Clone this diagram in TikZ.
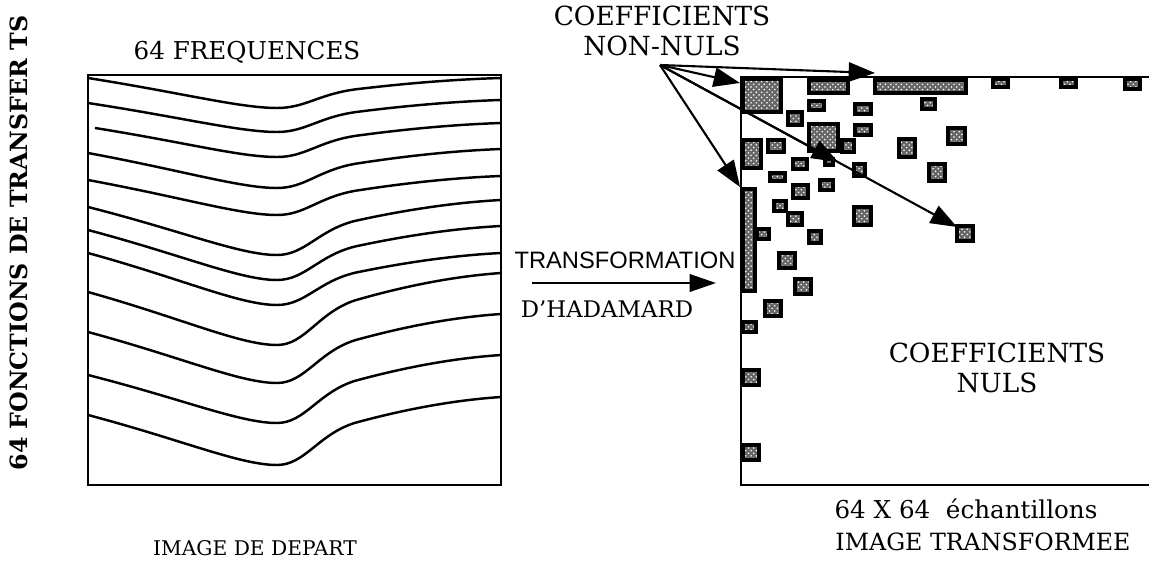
\documentclass[tikz,border=0pt]{standalone}
\usepackage{fontspec}
\setmainfont{DejaVu Serif}
\newfontfamily\helv{Liberation Sans}
\usetikzlibrary{arrows.meta,patterns}

\tikzset{
  cadre/.style={line width=1.6pt},
  courbe/.style={line width=1.4pt},
  coef/.style={fill=black!60, postaction={pattern=crosshatch dots, pattern color=white}, postaction={draw, line width=2.2pt}},
  fleche/.style={line width=1.2pt, -{Triangle[length=15pt,width=11pt]}},
  titre/.style={inner sep=0pt, align=center, font=\fontsize{14}{17}\selectfont},
}

\begin{document}
\begin{tikzpicture}[x=0.02cm,y=-0.02cm]
\useasboundingbox (0,0) rectangle (1149,564);

% image de depart
\draw[cadre] (88,75) rectangle (501,485);
\foreach \s/\l/\m/\r in {88/78/108/78, 88/103/132/100, 95/128/157/123, 88/153/188/149,
    88/180/215/176, 88/207/255/200, 88/230/280/226, 88/253/305/253,
    88/292/345/273, 88/332/383/314, 88/375/423/355, 88/415/465/397}
  \draw[courbe] (\s,\l) .. controls ({\s+0.5*(277-\s)},{\l+0.5*(\m-\l)}) and (240,\m) .. (277,\m)
     .. controls (305,\m) and (318,{\m-0.45*(\m-\r)}) .. (355,{\m-0.62*(\m-\r)})
     .. controls (400,{\m-0.8*(\m-\r)}) and (450,{\m-0.95*(\m-\r)}) .. (501,\r);

\node[titre] (freq) at (247,52) {64 FREQUENCES};
\node[titre, rotate=90, font=\fontsize{13.5}{16}\selectfont\bfseries] (fonctions) at (19,243) {64 FONCTIONS DE TRANSFER TS};
\node[titre, font=\fontsize{11.5}{14}\selectfont] (depart) at (255,548) {IMAGE DE DEPART};

% transformation
\node[titre, font=\helv\fontsize{13.5}{16}\selectfont] (transfo) at (625,260) {TRANSFORMATION};
\node[titre, font=\fontsize{13}{16}\selectfont] (hadamard) at (607,309) {D'HADAMARD};
\coordinate (hdeb) at (532,283);
\coordinate (hfin) at (716,283);
\draw[fleche, -{Triangle[length=15pt,width=10pt]}] (hdeb) -- (hfin);

% image transformee
\draw[cadre] (1149,77) -- (741,77) -- (741,485) -- (1149,485);
\foreach \a/\b/\c/\d in {741/77/783/114, 807/78/850/95, 873/78/968/95, 991/77/1010/89,
    1059/77/1078/89, 1123/77/1142/91, 807/99/826/112, 853/102/873/116, 920/97/937/111,
    786/110/804/127, 853/123/873/137, 807/122/840/153, 840/138/856/154, 946/126/967/146,
    741/138/763/170, 766/138/786/154, 897/137/917/159, 791/157/809/171, 823/157/835/167,
    852/162/867/178, 927/162/947/183, 768/171/787/183, 791/183/810/200, 818/178/835/192,
    741/187/757/293, 755/227/771/241, 772/199/788/213, 786/211/804/227, 852/205/873/227,
    807/229/823/245, 955/224/975/243, 777/251/797/270, 793/277/813/296, 763/299/783/318,
    741/320/758/334, 741/368/761/387, 741/443/761/462}
  \draw[coef] ({\a+2},{\b+2}) rectangle ({\c-2},{\d-2});

\node[titre, font=\fontsize{15}{17}\selectfont] (nonnuls) at (662,31) {COEFFICIENTS\\NON-NULS};
\node[titre, font=\fontsize{15}{17}\selectfont] (nuls) at (997,368) {COEFFICIENTS\\NULS};
\node[titre] (echant) at (966,509) {64 X 64\ \ échantillons};
\node[titre, font=\fontsize{13.5}{16}\selectfont] (transformee) at (983,542) {IMAGE TRANSFORMEE};

% fleches vers les coefficients
\coordinate (fan) at (660,65);
\coordinate (c1) at (875,73);
\coordinate (c2) at (740,83);
\coordinate (c3) at (740,187);
\coordinate (c4) at (838,162);
\coordinate (c5) at (957,227);
\foreach \c in {c1,c2,c3,c4,c5}
  \draw[fleche] (fan) -- (\c);
\end{tikzpicture}
\end{document}
